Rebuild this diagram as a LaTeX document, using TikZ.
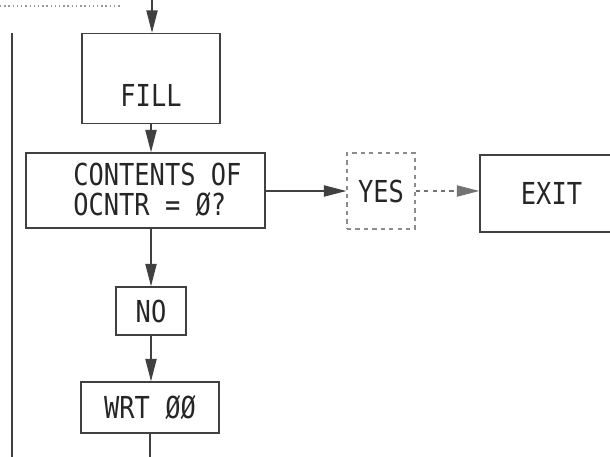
\documentclass[tikz,border=0pt]{standalone}
\usepackage{fontspec}
\setmonofont{DejaVu Sans Mono}[FakeStretch=0.84]
\usetikzlibrary{arrows.meta,positioning}

\tikzset{
  box/.style={draw=black!75, line width=1pt, inner sep=0pt, text=black!85,
    font=\ttfamily\fontsize{21.5}{21.3}\selectfont},
  txt/.style={inner sep=0pt, text=black!85, align=left,
    font=\ttfamily\fontsize{21.5}{21.3}\selectfont},
  flow/.style={draw=black!75, line width=1pt, -{Triangle[length=5.6mm,width=2.8mm]}},
  link/.style={draw=black!75, line width=1pt},
}

\begin{document}
\begin{tikzpicture}[x=0.025cm,y=-0.025cm]
  \clip (0,0) rectangle (610,457);
  \fill[white] (0,0) rectangle (610,457);

  % boxes
  \node[box, minimum width=3.45cm, minimum height=2.25cm] (fill) at (151,78.5) {};
  \node[txt] (filltxt) at (151,95) {FILL};
  \node[box, minimum width=5.975cm, minimum height=1.875cm] (cont) at (145.5,190.5) {};
  \node[txt, anchor=west] (conttxt) at (73,190) {CONTENTS OF\\OCNTR = Ø?};
  \node[box, dashed, draw=black!45, minimum width=1.7cm, minimum height=1.9cm] (yes) at (381,191) {YES};
  \node[box, minimum width=3.575cm, minimum height=1.925cm] (exit) at (551.5,193.5) {EXIT};
  \node[box, minimum width=1.75cm, minimum height=1.2cm] (no) at (151,311) {NO};
  \node[box, minimum width=3.45cm, minimum height=1.275cm] (wrt) at (150,407.5) {WRT ØØ};

  % free ends
  \coordinate (top) at (152,0);
  \coordinate (bot) at (150,457);
  \coordinate (loopt) at (12,33);
  \coordinate (loopb) at (12,457);
  \coordinate (dotl) at (0,6);
  \coordinate (dotr) at (120,6);

  % connectors
  \draw[flow] (top) -- (top |- fill.north);
  \draw[flow] (fill.south) -- (fill.south |- cont.north);
  \draw[flow] (cont.east |- yes.west) -- (yes.west);
  \draw[flow, dashed, draw=black!55] (yes.east) -- (yes.east -| exit.west);
  \draw[flow] (fill.south |- cont.south) -- (fill.south |- no.north);
  \draw[flow] (no.south) -- (no.south |- wrt.north);
  \draw[link] (wrt.south) -- (bot);
  \draw[link] (loopt) -- (loopb);
  \draw[dotted, black!40, line width=1pt] (dotl) -- (dotr);
\end{tikzpicture}
\end{document}
